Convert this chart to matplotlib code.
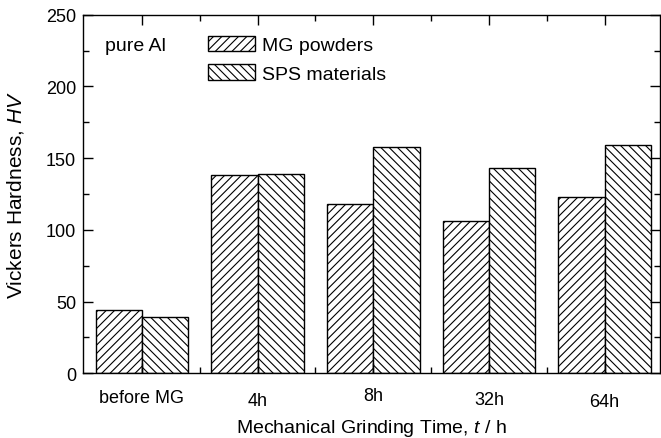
import numpy as np
import matplotlib
matplotlib.use("Agg")
import matplotlib.pyplot as plt
import matplotlib.transforms as mtransforms

plt.rcParams['font.family'] = ['Liberation Sans', 'DejaVu Sans']
plt.rcParams['hatch.linewidth'] = 0.8
plt.rcParams['mathtext.fontset'] = 'custom'
plt.rcParams['mathtext.it'] = 'Liberation Sans:italic'
plt.rcParams['mathtext.rm'] = 'Liberation Sans'

# 研磨时间与硬度数据
times = ['before MG', '4h', '8h', '32h', '64h']
hv_powder = [44, 138, 118, 106, 123]
hv_sps = [39, 139, 158, 143, 159]

fig = plt.figure(figsize=(6.61, 4.39), dpi=100)
ax = fig.add_axes([0.1256, 0.1474, 0.873, 0.8168])

x = np.arange(1, len(times) + 1)
w = 0.40
ax.bar(x - w / 2, hv_powder, w, facecolor='white', edgecolor='black',
       hatch='////', linewidth=1.0, label='MG powders')
ax.bar(x + w / 2, hv_sps, w, facecolor='white', edgecolor='black',
       hatch='\\\\\\\\', linewidth=1.0, label='SPS materials')

ax.set_xlim(0.49, 5.48)
ax.set_ylim(0, 250)
ax.set_yticks(np.arange(0, 251, 50))
ax.set_yticks(np.arange(25, 251, 50), minor=True)
ax.set_xticks(x)
ax.set_xticklabels(times)
ax.set_xticks(x[:-1] + 0.5, minor=True)

ax.tick_params(which='both', direction='in', top=True, right=True,
               labelsize=13, width=1.0)
ax.tick_params(which='major', length=7)
ax.tick_params(which='minor', length=4)
ax.tick_params(axis='x', which='major', pad=10)
ax.tick_params(axis='y', which='major', pad=5)
for sp in ax.spines.values():
    sp.set_linewidth(1.0)

# 横轴标签高低略有错落
shifts = [2, 5, 0, 4, 6]
for lab, s in zip(ax.get_xticklabels(), shifts):
    lab.set_transform(lab.get_transform() +
                      mtransforms.ScaledTranslation(0, -s / 100, fig.dpi_scale_trans))

ax.set_xlabel('Mechanical Grinding Time, $t$ / h', fontsize=14)
ax.set_ylabel('Vickers Hardness, $HV$', fontsize=15)
ax.xaxis.set_label_coords(0.5, -0.122)
ax.yaxis.set_label_coords(-0.098, 0.5)

ax.text(0.038, 0.915, 'pure Al', transform=ax.transAxes, fontsize=14,
        ha='left', va='center')
ax.legend(loc='upper left', bbox_to_anchor=(0.217, 0.942), frameon=False,
          fontsize=14, handlelength=2.4, handleheight=0.88,
          handletextpad=0.36, labelspacing=0.5, borderpad=0, borderaxespad=0)

fig.savefig('out.png', dpi=100)
